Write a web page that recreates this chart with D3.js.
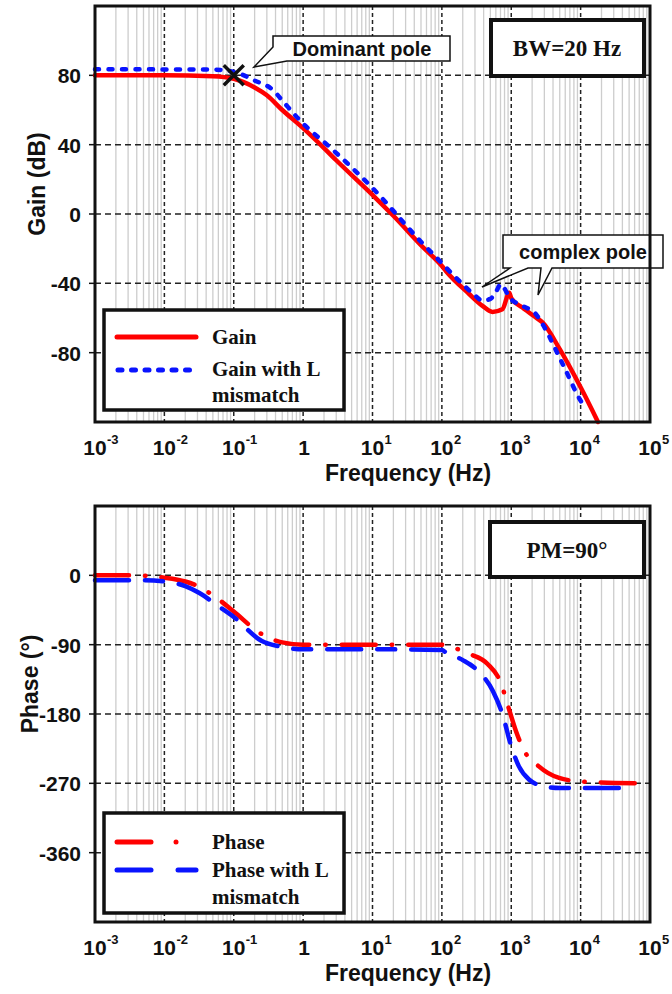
<!DOCTYPE html>
<meta charset="utf-8">
<style>
  body { margin: 0; background: #fff; }
  svg { display: block; }
  .sans { font-family: 'Liberation Sans', Arial, sans-serif; font-weight: bold; fill: #111; }
  .serif { font-family: 'Liberation Serif', 'Times New Roman', serif; font-weight: bold; fill: #111; }
</style>
<script src="https://d3js.org/d3.v7.min.js"></script>
<svg width="672" height="994"></svg>
<script>
// decades on the frequency axis, 10^-3 .. 10^5
var decades = [-3, -2, -1, 0, 1, 2, 3, 4, 5];
var gainTicks = [80, 40, 0, -40, -80];
var phaseTicks = [0, -90, -180, -270, -360];

// gain (dB)
var gainFreq = [0.001, 0.01, 0.05, 0.1, 0.2, 0.3, 0.5, 1, 2, 3, 10, 20, 50, 100, 115, 245, 385, 537, 745, 935, 1000, 1450, 2260, 2820, 5000, 10000, 17800];
var gainDb   = [80, 80, 79.5, 78, 73, 68.5, 60, 49.5, 38, 31, 11, -1, -18, -30, -33, -46, -53, -56.5, -55, -45.5, -48.5, -54, -59.7, -62.5, -78, -100, -120];

var gainMisFreq = [0.001, 0.05, 0.1, 0.2, 0.37, 0.5, 0.9, 2.72, 10, 50, 74, 199, 300, 385, 500, 600, 710, 800, 935, 1450, 2260, 2820, 5500, 10700, 11600];
var gainMisDb   = [83.5, 83.3, 82, 77, 71.4, 65.5, 54, 36.8, 15, -16, -23, -40.5, -47, -50, -49, -45, -40.5, -43, -48, -53, -57.7, -63.5, -86.5, -109.5, -111.4];

// phase (deg)
var phaseFreq = [0.001, 0.003, 0.006, 0.01, 0.02, 0.032, 0.06, 0.1, 0.25, 0.5, 1, 10, 100, 142, 250, 456, 710, 923, 1200, 1480, 2500, 4900, 11200, 66000];
var phaseDeg  = [0, 0, -1, -3, -8, -15, -31, -47, -76, -87, -90, -90, -90, -93.5, -102, -115, -140, -173, -205, -225, -248, -263, -268, -270];

var phaseMisFreq = [0.001, 0.005, 0.01, 0.02, 0.032, 0.06, 0.1, 0.25, 0.5, 1, 10, 100, 114, 200, 340, 543, 757, 985, 1290, 1800, 3000, 5000, 45000];
var phaseMisDeg  = [-6.5, -6.5, -8, -14, -23, -40, -54, -85, -93, -96, -96, -97, -100, -110, -125, -150, -182, -220, -248, -265, -274, -276, -276];

var svg = d3.select("svg");
var x = d3.scaleLog().domain([1e-3, 1e5]).range([95, 650]);

function panel(top, bottom, yDomain, yTicks, yTitle, yTitleX, yTitleY) {
  var y = d3.scaleLinear().domain(yDomain).range([bottom, top]);
  var g = svg.append("g");

  // minor grid
  var minors = [];
  decades.slice(0, -1).forEach(function(e) {
    for (var k = 2; k <= 9; k++) minors.push(k * Math.pow(10, e));
  });
  g.selectAll(".minor").data(minors).enter().append("line")
    .attr("x1", d => x(d)).attr("x2", d => x(d))
    .attr("y1", top).attr("y2", bottom)
    .attr("stroke", "#cdcdcd").attr("stroke-width", 1.3);

  // major grid
  g.selectAll(".vmaj").data(decades.slice(1, -1)).enter().append("line")
    .attr("x1", d => x(Math.pow(10, d))).attr("x2", d => x(Math.pow(10, d)))
    .attr("y1", top).attr("y2", bottom)
    .attr("stroke", "#222").attr("stroke-width", 1.5).attr("stroke-dasharray", "4,3");
  g.selectAll(".hmaj").data(yTicks).enter().append("line")
    .attr("x1", 95).attr("x2", 650)
    .attr("y1", d => y(d)).attr("y2", d => y(d))
    .attr("stroke", "#222").attr("stroke-width", 1.5).attr("stroke-dasharray", "6,4");

  // left ticks + labels
  g.selectAll(".yt").data(yTicks).enter().append("line")
    .attr("x1", 89).attr("x2", 95).attr("y1", d => y(d)).attr("y2", d => y(d))
    .attr("stroke", "#111").attr("stroke-width", 1.5);
  g.selectAll(".yl").data(yTicks).enter().append("text")
    .attr("class", "sans").attr("x", 81).attr("y", d => y(d) + 8)
    .attr("text-anchor", "end").style("font-size", "21px")
    .text(d => d);

  // frequency labels
  var xl = g.selectAll(".xl").data(decades).enter().append("g");
  xl.append("text").attr("class", "sans")
    .attr("x", d => x(Math.pow(10, d)) + (d === 0 ? 1 : 0)).attr("y", bottom + 33)
    .attr("text-anchor", "middle").style("font-size", "21px")
    .text(d => d === 0 ? "1" : "10");
  xl.filter(d => d !== 0).append("text").attr("class", "sans")
    .attr("x", d => x(Math.pow(10, d)) + 12).attr("y", bottom + 22)
    .style("font-size", "13px")
    .text(d => d);

  g.append("text").attr("class", "sans")
    .attr("x", 408).attr("y", bottom + 59).attr("text-anchor", "middle")
    .style("font-size", "23px").text("Frequency (Hz)");
  g.append("text").attr("class", "sans")
    .attr("transform", "translate(" + yTitleX + "," + yTitleY + ") rotate(-90)")
    .attr("text-anchor", "middle").style("font-size", "23px").text(yTitle);

  return { g: g, y: y, top: top, bottom: bottom };
}

function curve(p, fx, fy, color, dash, width) {
  var line = d3.line().x(d => x(d[0])).y(d => p.y(d[1])).curve(d3.curveMonotoneX);
  p.g.append("path").datum(d3.zip(fx, fy))
    .attr("d", line).attr("fill", "none")
    .attr("stroke", color).attr("stroke-width", width)
    .attr("stroke-linecap", "round")
    .attr("stroke-dasharray", dash);
}

function frame(p) {
  p.g.append("rect").attr("x", 95).attr("y", p.top)
    .attr("width", 555).attr("height", p.bottom - p.top)
    .attr("fill", "none").attr("stroke", "#111").attr("stroke-width", 3);
}

function box(g, x0, y0, w, h, sw) {
  g.append("rect").attr("x", x0).attr("y", y0).attr("width", w).attr("height", h)
    .attr("fill", "#fff").attr("stroke", "#111").attr("stroke-width", sw);
}

// ---- gain panel
var pg = panel(6, 422, [-120, 120], gainTicks, "Gain (dB)", 45, 184);
curve(pg, gainFreq, gainDb, "#ff0000", null, 4.5);
curve(pg, gainMisFreq, gainMisDb, "#0a14ff", "4,9.5", 4.5);

// dominant pole marker
var mx = x(0.1), my = pg.y(80);
pg.g.append("path")
  .attr("d", "M" + (mx - 10) + "," + (my - 10) + "L" + (mx + 10) + "," + (my + 10) +
             "M" + (mx - 10) + "," + (my + 10) + "L" + (mx + 10) + "," + (my - 10))
  .attr("stroke", "#111").attr("stroke-width", 3.5);

// callouts
pg.g.append("path")
  .attr("d", "M273,36 L450,36 L450,61 L287,61 L254,67 L273,47 Z")
  .attr("fill", "#fff").attr("stroke", "#111").attr("stroke-width", 1.5);
pg.g.append("text").attr("class", "sans").attr("x", 362).attr("y", 56)
  .attr("text-anchor", "middle").style("font-size", "20px").text("Dominant pole");

pg.g.append("path")
  .attr("d", "M503,235 L663,235 L663,268 L552,268 L538,295 L541,268 L528,268 L482,287 L510,268 L503,268 Z")
  .attr("fill", "#fff").attr("stroke", "#111").attr("stroke-width", 1.5);
pg.g.append("text").attr("class", "sans").attr("x", 583).attr("y", 259)
  .attr("text-anchor", "middle").style("font-size", "20px").text("complex pole");

box(pg.g, 491, 20, 153, 56, 4);
pg.g.append("text").attr("class", "serif").attr("x", 567).attr("y", 56)
  .attr("text-anchor", "middle").style("font-size", "23px").text("BW=20 Hz");

// legend
box(pg.g, 104, 310, 240, 100, 3.5);
pg.g.append("line").attr("x1", 117).attr("x2", 196).attr("y1", 337).attr("y2", 337)
  .attr("stroke", "#ff0000").attr("stroke-width", 5).attr("stroke-linecap", "round");
pg.g.append("line").attr("x1", 118).attr("x2", 198).attr("y1", 370).attr("y2", 370)
  .attr("stroke", "#0a14ff").attr("stroke-width", 5).attr("stroke-linecap", "round")
  .attr("stroke-dasharray", "4,9.5");
pg.g.append("text").attr("class", "serif").attr("x", 212).attr("y", 344).style("font-size", "21px").text("Gain");
pg.g.append("text").attr("class", "serif").attr("x", 212).attr("y", 376).style("font-size", "21px").text("Gain with L");
pg.g.append("text").attr("class", "serif").attr("x", 212).attr("y", 402).style("font-size", "21px").text("mismatch");
frame(pg);

// ---- phase panel
var pp = panel(506, 922, [-450, 90], phaseTicks, "Phase (\u00b0)", 38, 684);
curve(pp, phaseFreq, phaseDeg, "#ff0000", "34,16,0.5,16", 4.5);
curve(pp, phaseMisFreq, phaseMisDeg, "#0a14ff", "34,16,18,16", 4.5);

box(pp.g, 490, 522, 154, 55, 4);
pp.g.append("text").attr("class", "serif").attr("x", 567).attr("y", 558)
  .attr("text-anchor", "middle").style("font-size", "23px").text("PM=90\u00b0");

box(pp.g, 104, 813, 240, 100, 3.5);
pp.g.append("line").attr("x1", 117).attr("x2", 151).attr("y1", 842).attr("y2", 842)
  .attr("stroke", "#ff0000").attr("stroke-width", 5).attr("stroke-linecap", "round");
pp.g.append("circle").attr("cx", 176).attr("cy", 842).attr("r", 2.5).attr("fill", "#ff0000");
pp.g.append("line").attr("x1", 117).attr("x2", 151).attr("y1", 870).attr("y2", 870)
  .attr("stroke", "#0a14ff").attr("stroke-width", 5).attr("stroke-linecap", "round");
pp.g.append("line").attr("x1", 178).attr("x2", 196).attr("y1", 870).attr("y2", 870)
  .attr("stroke", "#0a14ff").attr("stroke-width", 5).attr("stroke-linecap", "round");
pp.g.append("text").attr("class", "serif").attr("x", 212).attr("y", 849).style("font-size", "21px").text("Phase");
pp.g.append("text").attr("class", "serif").attr("x", 212).attr("y", 877).style("font-size", "21px").text("Phase with L");
pp.g.append("text").attr("class", "serif").attr("x", 212).attr("y", 904).style("font-size", "21px").text("mismatch");
frame(pp);
</script>
